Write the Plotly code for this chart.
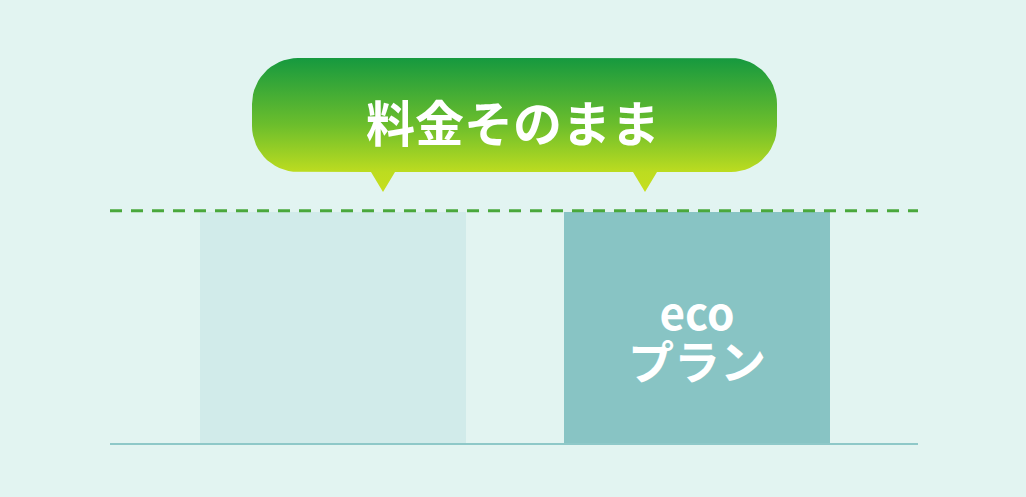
import numpy as np
import plotly.graph_objects as go

# ---- data ----
categories = ["current", "eco"]
values = [100, 100]
bar_colors = ["#d1ebea", "#88c4c4"]
bubble_text = "料金そのまま"
eco_label_1 = "eco"
eco_label_2 = "プラン"

W, H = 1026, 497
BG = "#e2f4f1"

fig = go.Figure()

fig.add_trace(go.Bar(
    x=[0, 1], y=values, marker=dict(color=bar_colors, line=dict(width=0)),
    width=0.731, hoverinfo="skip", showlegend=False,
))

# ---- speech bubble (pixel-space axes) ----
def rounded_rect(x0, y0, x1, y1, r, tips):
    pts = []
    def arc(cx, cy, a0, a1):
        for a in np.linspace(a0, a1, 16):
            pts.append((cx + r * np.cos(a), cy + r * np.sin(a)))
    arc(x0 + r, y0 + r, np.pi, 1.5 * np.pi)
    arc(x1 - r, y0 + r, 1.5 * np.pi, 2 * np.pi)
    arc(x1 - r, y1 - r, 0, 0.5 * np.pi)
    for tx, hw, ty in sorted(tips, reverse=True):
        pts.append((tx + hw, y1))
        pts.append((tx, ty))
        pts.append((tx - hw, y1))
    arc(x0 + r, y1 - r, 0.5 * np.pi, np.pi)
    pts.append(pts[0])
    return [p[0] for p in pts], [p[1] for p in pts]

bx, by = rounded_rect(252, 58, 777, 172, 46, [(383, 12, 192), (645, 12, 192)])
fig.add_trace(go.Scatter(
    x=bx, y=by, mode="lines", fill="toself", line=dict(width=0),
    fillgradient=dict(type="vertical",
                      colorscale=[[0, "#c6df1e"], [0.15, "#bcdc20"], [0.5, "#6cbe2c"], [1, "#16993f"]]),
    xaxis="x2", yaxis="y2", hoverinfo="skip", showlegend=False,
))

fig.add_annotation(x=513, y=120, xref="x2", yref="y2", text=bubble_text,
                   showarrow=False, font=dict(family="Noto Sans CJK JP", size=49, color="white", weight="bold"))

eco_text = (f"<span style='font-size:44px'>{eco_label_1}</span><br>"
            f"<span style='font-size:46px'>{eco_label_2}</span>")
fig.add_annotation(x=1, y=335, xref="x", yref="y2", text=eco_text, showarrow=False,
                   font=dict(family="Noto Sans CJK JP", size=38, color="white", weight="bold"))

# dashed reference line at the bar level
fig.add_shape(type="line", xref="x domain", yref="y", x0=0, x1=1, y0=values[0] + 0.5, y1=values[0] + 0.5,
              line=dict(color="#4aa83c", width=3, dash="12px,9px"), layer="above")

top_px, base_px = 20, 443
fig.update_layout(
    width=W, height=H, paper_bgcolor=BG, plot_bgcolor="rgba(0,0,0,0)",
    margin=dict(l=0, r=0, t=0, b=0),
    xaxis=dict(domain=[110 / W, 918 / W], range=[-0.6126, 1.607], showgrid=False, zeroline=False,
               showticklabels=False, showline=True, linecolor="#8ec8c8", linewidth=2, ticks=""),
    yaxis=dict(domain=[(H - base_px) / H, (H - top_px) / H], range=[0, 100 * (base_px - top_px) / (base_px - 212)],
               showgrid=False, zeroline=False, showticklabels=False),
    xaxis2=dict(domain=[0, 1], range=[0, W], visible=False, anchor="y2"),
    yaxis2=dict(domain=[0, 1], range=[H, 0], visible=False, anchor="x2"),
    bargap=0,
)

fig.write_html("out.html", config={"displayModeBar": False},
               post_script="document.body.style.margin='0';document.body.style.overflow='hidden';")
